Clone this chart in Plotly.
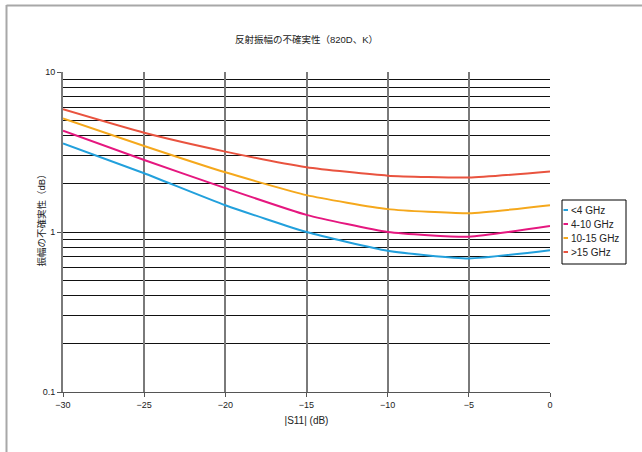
import plotly.graph_objects as go

# ---- data ----
s11_db = [-30, -25, -20, -15, -10, -5, 0]
series_names = ["<4 GHz", "4-10 GHz", "10-15 GHz", ">15 GHz"]
u_lt4 = [3.58, 2.33, 1.47, 1.00, 0.764, 0.684, 0.77]
u_4_10 = [4.30, 2.82, 1.88, 1.28, 1.00, 0.935, 1.09]
u_10_15 = [5.13, 3.45, 2.36, 1.70, 1.39, 1.31, 1.47]
u_gt15 = [5.85, 4.17, 3.18, 2.54, 2.25, 2.19, 2.39]
series_values = [u_lt4, u_4_10, u_10_15, u_gt15]
colors = ["#22a0dc", "#e5177f", "#f5a81c", "#e9533f"]

x_ticks = [-30, -25, -20, -15, -10, -5, 0]
y_ticks = [0.1, 1, 10]
y_tick_text = ["0.1", "1", "10"]
y_minor = [0.2, 0.3, 0.4, 0.5, 0.6, 0.7, 0.8, 0.9, 2, 3, 4, 5, 6, 7, 8, 9]

W, H = 642, 452
L, R, T, B = 63, 550, 72, 392
FONT = "Liberation Sans, Arial, Noto Sans CJK JP, sans-serif"


def px(p):
    return (p - L) / (R - L)


def py(q):
    return (B - q) / (B - T)


fig = go.Figure()
for name, vals, c in zip(series_names, series_values, colors):
    fig.add_trace(go.Scatter(x=s11_db, y=vals, name=name, mode="lines",
                             line=dict(color=c, width=2, shape="spline", smoothing=0.5),
                             showlegend=False))

shapes = [
    dict(type="line", xref="paper", yref="paper", x0=px(6.5), x1=px(642), y0=py(5.5), y1=py(5.5),
         line=dict(color="#a8a8a8", width=2)),
    dict(type="line", xref="paper", yref="paper", x0=px(6.5), x1=px(6.5), y0=py(5), y1=py(452),
         line=dict(color="#a8a8a8", width=2)),
    dict(type="rect", xref="paper", yref="paper", x0=px(562), x1=px(626), y0=py(200), y1=py(264),
         line=dict(color="black", width=1), fillcolor="white"),
]
annotations = [
    dict(text="振幅の不確実性（dB）", xref="paper", yref="paper", x=px(33), y=py(218),
         textangle=-90, showarrow=False, font=dict(size=9.5, color="#222", family=FONT)),
]
for i, (name, c) in enumerate(zip(series_names, colors)):
    yy = 210 + 14 * i
    shapes.append(dict(type="line", xref="paper", yref="paper", x0=px(563.5), x1=px(568),
                       y0=py(yy), y1=py(yy), line=dict(color=c, width=2)))
    annotations.append(dict(text=name, xref="paper", yref="paper", x=px(569), y=py(yy),
                            xanchor="left", yanchor="middle", showarrow=False,
                            font=dict(size=10, color="#222", family=FONT)))

fig.update_layout(
    width=W, height=H,
    margin=dict(l=L, r=W - R, t=T, b=H - B),
    paper_bgcolor="white", plot_bgcolor="white",
    font=dict(family=FONT, size=9, color="#222"),
    title=dict(text="反射振幅の不確実性（820D、K）", x=(L + R) / 2 / W, xanchor="center",
               y=1 - 40 / H, yanchor="middle", yref="container",
               font=dict(size=9.5, color="#222", family=FONT)),
    xaxis=dict(range=[-30, 0], tickvals=x_ticks, ticks="outside", ticklen=4, tickcolor="#555",
               showgrid=True, gridcolor="#7a7a7a", gridwidth=2, zeroline=False,
               showline=True, linecolor="#555", linewidth=1,
               title=dict(text="|S11| (dB)", font=dict(size=10), standoff=8),
               tickfont=dict(size=9)),
    yaxis=dict(type="log", range=[-1, 1], tickvals=y_ticks, ticktext=y_tick_text,
               ticks="outside", ticklen=4, tickcolor="#555",
               showgrid=True, gridcolor="#111", gridwidth=1, zeroline=False,
               showline=True, linecolor="#7a7a7a", linewidth=2,
               minor=dict(tickvals=y_minor, showgrid=True, gridcolor="#111", gridwidth=1, ticks=""),
               tickfont=dict(size=9)),
    shapes=shapes,
    annotations=annotations,
    showlegend=False,
)

fig.write_html("out.html")
